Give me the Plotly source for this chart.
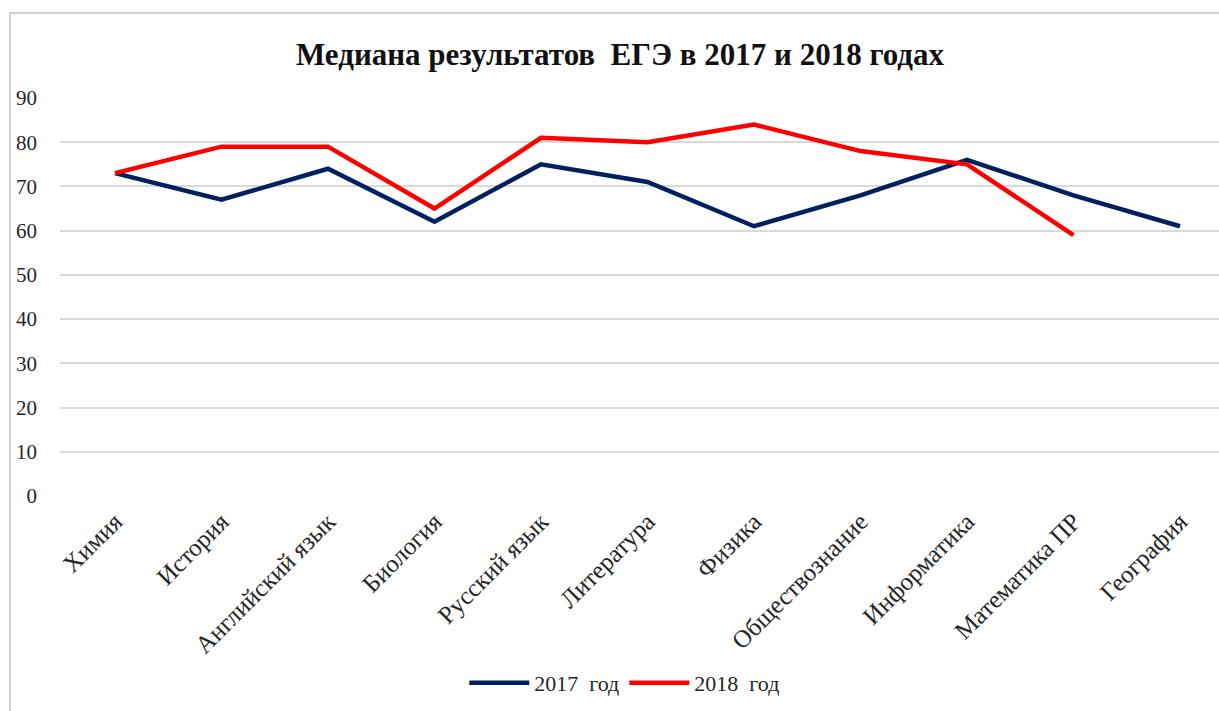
import plotly.graph_objects as go

# Subjects and median exam scores
subjects = ["Химия", "История", "Английский язык", "Биология", "Русский язык",
            "Литература", "Физика", "Обществознание", "Информатика",
            "Математика ПР", "География"]
scores_2017 = [73, 67, 74, 62, 75, 71, 61, 68, 76, 68, 61]
scores_2018 = [73, 79, 79, 65, 81, 80, 84, 78, 75, 59, None]
y_ticks = [0, 10, 20, 30, 40, 50, 60, 70, 80, 90]

W, H = 1219, 711
L, R, T, B = 60, 0, 98, 215
plot_w = W - L - R
plot_h = H - T - B
step = 106.5  # pixels per category

serif = "Liberation Serif"

fig = go.Figure()
fig.add_trace(go.Scatter(
    x=list(range(len(subjects))), y=scores_2017, mode="lines",
    name="2017\u00a0\u00a0год", line=dict(color="#002060", width=4.5),
))
fig.add_trace(go.Scatter(
    x=list(range(len(subjects))), y=scores_2018, mode="lines",
    name="2018\u00a0\u00a0год", line=dict(color="#FF0000", width=4.5),
    connectgaps=False,
))

x0 = -(115 - L) / step
x1 = x0 + plot_w / step

def px_to_paper_x(px):
    return (px - L) / plot_w

def px_to_paper_y(py):
    return (H - B - py) / plot_h

# Outer chart frame
fig.add_shape(type="rect", xref="paper", yref="paper",
              x0=px_to_paper_x(10), x1=px_to_paper_x(W + 20),
              y0=px_to_paper_y(H + 20), y1=px_to_paper_y(13),
              line=dict(color="#d0d0d0", width=2), fillcolor="rgba(0,0,0,0)",
              layer="below")

fig.update_layout(
    width=W, height=H,
    margin=dict(l=L, r=R, t=T, b=B),
    paper_bgcolor="white", plot_bgcolor="white",
    title=dict(text="Медиана результатов\u00a0\u00a0ЕГЭ в 2017 и 2018 годах",
               x=620 / W, xanchor="center", y=1 - 54 / H, yanchor="middle",
               font=dict(family=serif, size=31, color="#111111", weight="bold")),
    xaxis=dict(
        tickmode="array", tickvals=list(range(len(subjects))), ticktext=subjects,
        range=[x0, x1], tickangle=-45, showgrid=False, zeroline=False,
        showline=False, ticks="", ticklabelstandoff=5,
        tickfont=dict(family=serif, size=25, color="#262626"),
    ),
    yaxis=dict(
        range=[0, 90], tickvals=y_ticks, showgrid=True, gridcolor="#d9d9d9",
        gridwidth=1.5, zeroline=False, showline=False, ticks="",
        ticklabelstandoff=22,
        tickfont=dict(family=serif, size=21, color="#262626"),
    ),
    legend=dict(orientation="h", x=594 / W, xanchor="center",
                y=px_to_paper_y(683), yanchor="middle",
                font=dict(family=serif, size=22, color="#262626"),
                itemwidth=60),
    showlegend=True,
)

fig.write_html("out.html")
